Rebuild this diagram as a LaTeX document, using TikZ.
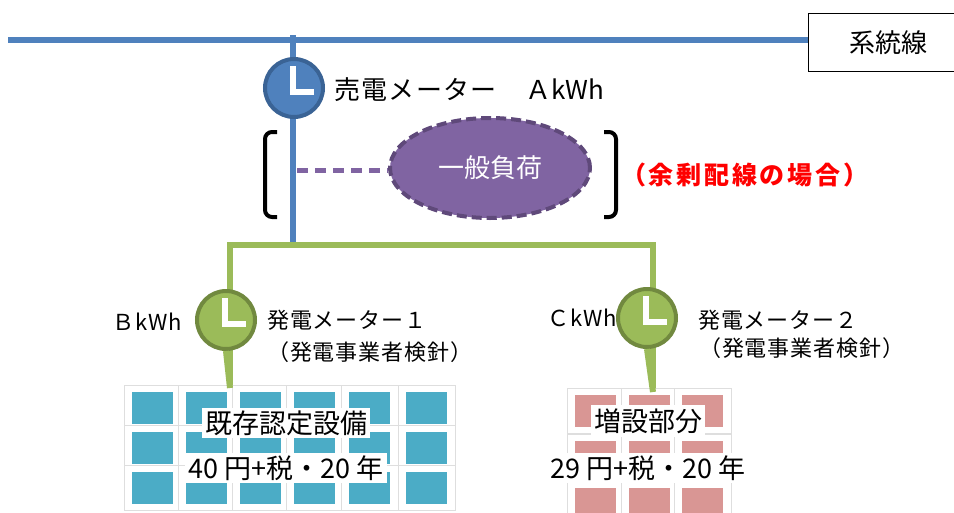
\documentclass[tikz,border=0pt]{standalone}
\usepackage{fontspec}
\setmainfont{Noto Sans CJK JP}
\usetikzlibrary{calc,shapes.geometric}
\definecolor{lineblue}{HTML}{4F81BD}
\definecolor{darkblue}{HTML}{3A6395}
\definecolor{linegreen}{HTML}{9BBB59}
\definecolor{darkgreen}{HTML}{71893F}
\definecolor{loadpurple}{HTML}{8064A2}
\definecolor{darkpurple}{HTML}{5F497A}
\definecolor{cellblue}{HTML}{4BACC6}
\definecolor{cellpink}{HTML}{D99694}
\tikzset{
  meter/.style={circle, minimum size=58pt, inner sep=0pt, line width=4pt},
  bluemeter/.style={meter, fill=lineblue, draw=darkblue},
  greenmeter/.style={meter, fill=linegreen, draw=darkgreen},
  hands/.style={white, line width=6pt, line join=miter},
  bluewire/.style={lineblue, line width=6pt},
  greenwire/.style={linegreen, line width=6pt},
  lbl/.style={inner sep=0pt, font=\fontsize{22}{24}\selectfont\addfontfeature{LetterSpace=4}},
  bigl/.style={inner sep=0pt, font=\fontsize{26}{28}\selectfont},
  panellbl/.style={fill=white, inner sep=3pt, font=\fontsize{27}{29}\selectfont},
  bracketline/.style={black, line width=4pt, rounded corners=7pt},
}
\newcommand{\panelcell}[3]{%
  \fill[white] (#1-8,#2-7) rectangle (#1+49,#2+38);
  \draw[black!13, line width=1pt] (#1-8,#2-7) rectangle (#1+49,#2+38);
  \fill[#3] (#1,#2) rectangle (#1+41,#2+32);
}
\newcommand{\hands}[1]{%
  \draw[hands] ($(#1)+(-1,-22)$) -- ($(#1)+(-1,4)$) -- ($(#1)+(20,4)$);
}
\begin{document}
\begin{tikzpicture}[x=1pt,y=-1pt]
\useasboundingbox (0,0) rectangle (954,512);
\fill[white] (0,0) rectangle (954,512);

% grid line and box
\node[draw=black, line width=1pt, minimum width=150pt, minimum height=58pt, inner sep=0pt, anchor=north west,
      font=\fontsize{26}{28}\selectfont] (grid) at (808,13) {\hspace*{10pt}系統線};
\coordinate (gl) at (8,40);
\draw[bluewire] (gl) -- (grid.west |- gl);

% main blue vertical
\coordinate (jt) at (293,35);
\coordinate (jb) at (293,248);
\draw[bluewire] (jt) -- (jb);

% green distribution
\coordinate (gB) at (230,245);
\coordinate (gC) at (653,245);
\coordinate (eB) at (230,388);
\coordinate (eC) at (653,392);
\draw[greenwire, line cap=rect] (gB) -- (gC);
\draw[greenwire] (gB) -- (eB);
\draw[greenwire] (gC) -- (eC);

% load
\node[ellipse, fill=loadpurple, draw=darkpurple, line width=4pt, dash pattern=on 10pt off 5pt,
      minimum width=200pt, minimum height=100pt, text=white, font=\fontsize{26}{28}\selectfont] (load) at (490,168) {一般負荷};
\coordinate (lj) at (297,170);
\draw[loadpurple, line width=5pt, dash pattern=on 11pt off 7pt] (lj) -- (load.west |- lj);

% brackets
\draw[bracketline] (277,132) -- (265,132) -- (265,217) -- (277,217);
\draw[bracketline] (604,132) -- (616,132) -- (616,217) -- (604,217);
\node[text=red, inner sep=0pt, anchor=west, font=\fontsize{25}{27}\selectfont\bfseries\addfontfeature{LetterSpace=11}] (case) at (621,175) {（余剰配線の場合）};

% meters
\node[bluemeter] (mA) at (294,88) {};
\hands{mA}
\node[bigl, anchor=west] (tA) at (334,90) {{\addfontfeature{LetterSpace=5}売電メーター　Ａ}kWh};

\node[greenmeter] (mB) at (226,320) {};
\hands{mB}
\node[lbl, anchor=west] (tB) at (112,322) {ＢkWh};
\node[lbl, anchor=west] (tB1) at (267,320) {発電メーター１};
\node[lbl, anchor=west] (tB2) at (267,352) {（発電事業者検針）};

\node[greenmeter] (mC) at (647,318) {};
\hands{mC}
\node[lbl, anchor=west] (tC) at (547,318) {ＣkWh};
\node[lbl, anchor=west] (tC1) at (698,320) {発電メーター２};
\node[lbl, anchor=west] (tC2) at (699,348) {（発電事業者検針）};

% solar panels B
\foreach \x in {132,186,240,294,349,406}{
  \foreach \y in {392,432,472}{
    \panelcell{\x}{\y}{cellblue}
  }
}
% solar panels C
\foreach \x in {575,629,682}{
  \foreach \y in {395,441,488}{
    \panelcell{\x}{\y}{cellpink}
  }
}
\draw[greenwire] (mB.south) -- (eB);
\draw[greenwire] (mC.south) -- (eC);

\node[panellbl] (pB1) at (286,423) {既存認定設備};
\node[panellbl] (pB2) at (286,468) {40 円+税・20 年};
\node[panellbl] (pC1) at (648,421) {増設部分};
\node[panellbl] (pC2) at (648,468) {29 円+税・20 年};
\end{tikzpicture}
\end{document}
